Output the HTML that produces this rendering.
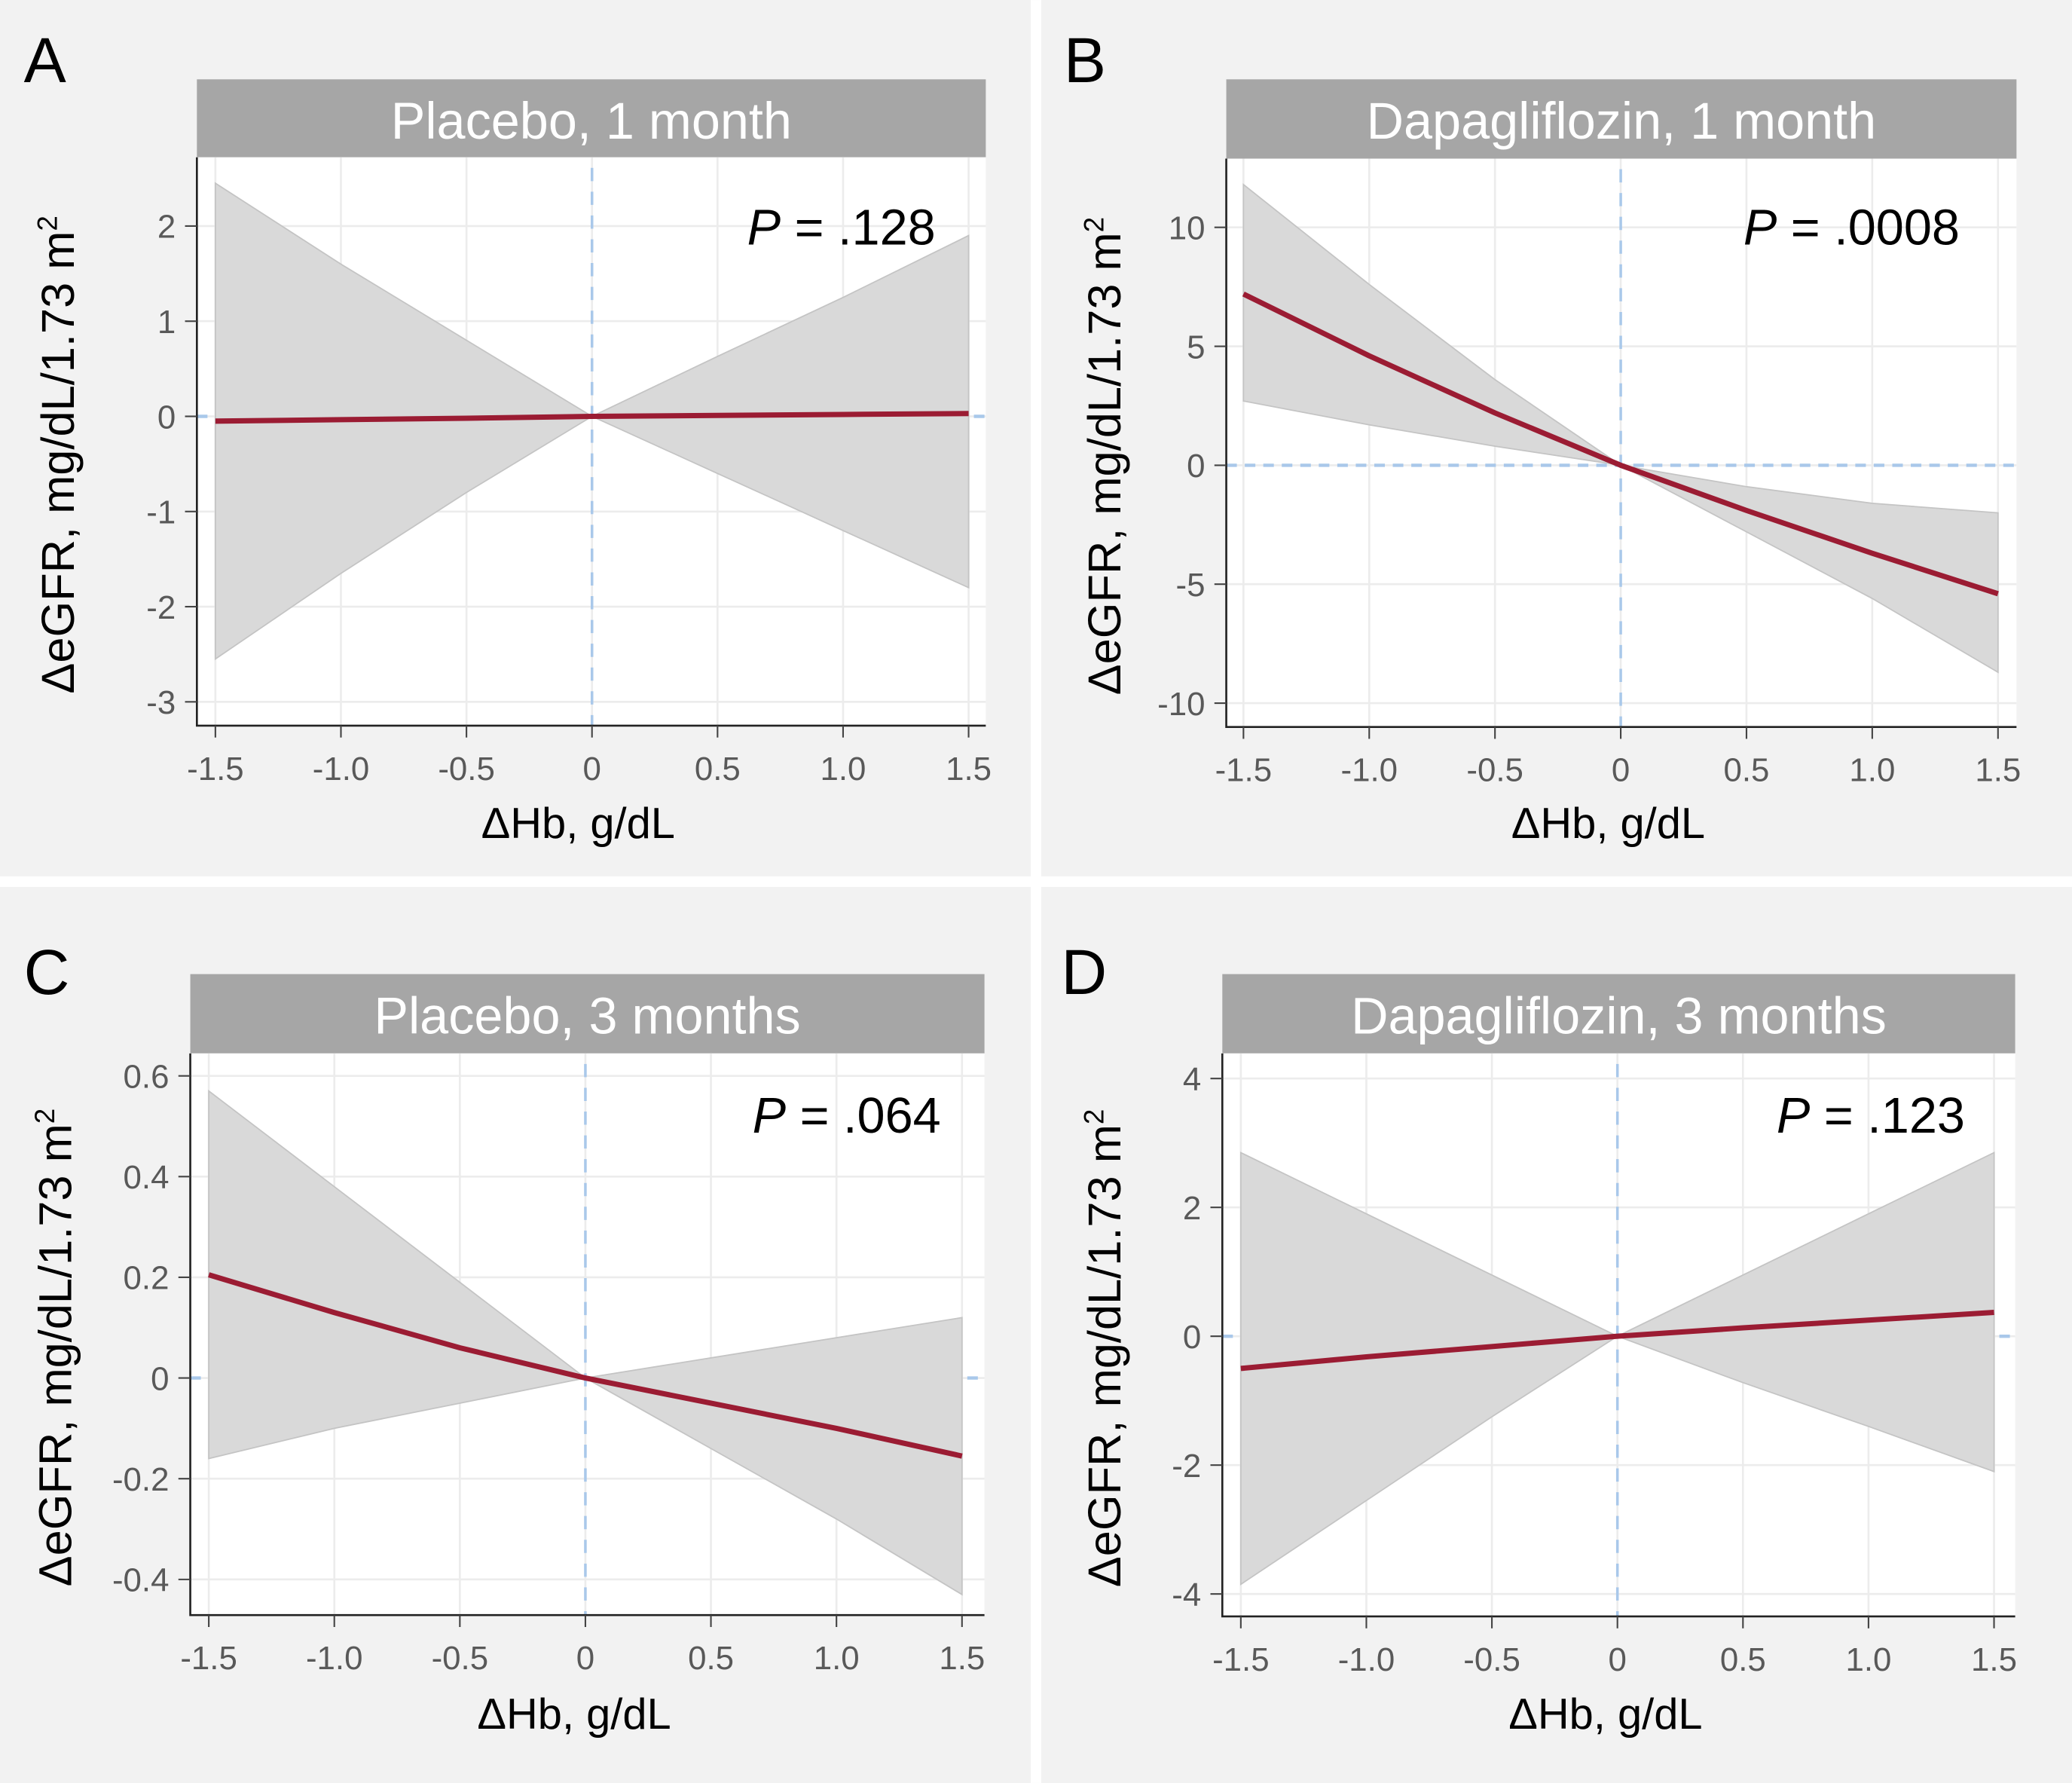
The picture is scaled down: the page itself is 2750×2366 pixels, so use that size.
<!DOCTYPE html>
<html><head><meta charset="utf-8"><style>
html,body{margin:0;padding:0;background:#f2f2f2;}
svg{display:block;}
text{font-family:"Liberation Sans",sans-serif;}
</style></head><body>
<svg id="fig" width="2750" height="2366" viewBox="0 0 1568 1349" xmlns="http://www.w3.org/2000/svg">
<rect x="0" y="0" width="1568" height="1349" fill="#f2f2f2"/>
<rect x="780" y="0" width="8" height="1349" fill="#ffffff"/>
<rect x="0" y="663" width="1568" height="8" fill="#ffffff"/>
</svg>
<script>
const xValues = [-1.5, -1.0, -0.5, 0, 0.5, 1.0, 1.5];
const xTickLabels = ["-1.5", "-1.0", "-0.5", "0", "0.5", "1.0", "1.5"];
const panelLetters = ["A", "B", "C", "D"];
const panelTitles = ["Placebo, 1 month", "Dapagliflozin, 1 month", "Placebo, 3 months", "Dapagliflozin, 3 months"];
const pValues = [".128", ".0008", ".064", ".123"];
const yTicksA = [2, 1, 0, -1, -2, -3];
const yTicksB = [10, 5, 0, -5, -10];
const yTicksC = [0.6, 0.4, 0.2, 0, -0.2, -0.4];
const yTicksD = [4, 2, 0, -2, -4];
const yTickLabelsA = ["2", "1", "0", "-1", "-2", "-3"];
const yTickLabelsB = ["10", "5", "0", "-5", "-10"];
const yTickLabelsC = ["0.6", "0.4", "0.2", "0", "-0.2", "-0.4"];
const yTickLabelsD = ["4", "2", "0", "-2", "-4"];
const fitA = [-0.05, -0.035, -0.02, 0, 0.01, 0.02, 0.03];
const upperA = [2.45, 1.6, 0.8, 0, 0.63, 1.25, 1.9];
const lowerA = [-2.55, -1.65, -0.8, 0, -0.6, -1.2, -1.8];
const fitB = [7.2, 4.6, 2.2, 0, -1.9, -3.7, -5.4];
const upperB = [11.8, 7.6, 3.6, 0, -0.9, -1.6, -2.0];
const lowerB = [2.7, 1.7, 0.8, 0, -2.8, -5.6, -8.7];
const fitC = [0.205, 0.13, 0.06, 0, -0.05, -0.1, -0.155];
const upperC = [0.57, 0.38, 0.19, 0, 0.04, 0.08, 0.12];
const lowerC = [-0.16, -0.1, -0.05, 0, -0.14, -0.28, -0.43];
const fitD = [-0.5, -0.32, -0.16, 0, 0.13, 0.25, 0.37];
const upperD = [2.85, 1.9, 0.95, 0, 0.95, 1.9, 2.85];
const lowerD = [-3.85, -2.55, -1.25, 0, -0.72, -1.4, -2.1];

const NS = "http://www.w3.org/2000/svg";
const svg = document.getElementById("fig");
function mk(tag, attrs, parent, txt) {
  const e = document.createElementNS(NS, tag);
  for (const k in attrs) e.setAttribute(k, attrs[k]);
  if (txt !== undefined) e.textContent = txt;
  (parent || svg).appendChild(e);
  return e;
}
const layouts = [
  {L:149,R:746,hT:60,T:119,B:549,x0:163,x1:733,yt0:171,yt1:531,letX:18,letY:62,pX:708,pY:185,ytX:56,xtY:634},
  {L:928,R:1526,hT:60,T:120,B:550,x0:941,x1:1512,yt0:172,yt1:532,letX:805,letY:62,pX:1483,pY:185,ytX:848,xtY:634},
  {L:144,R:745,hT:737,T:797,B:1222,x0:158,x1:728,yt0:814,yt1:1195,letX:18,letY:752,pX:712,pY:857,ytX:54,xtY:1308},
  {L:925,R:1525,hT:737,T:797,B:1223,x0:939,x1:1509,yt0:816,yt1:1206,letX:803,letY:752,pX:1487,pY:857,ytX:848,xtY:1308}
];
const yTicksAll = [yTicksA, yTicksB, yTicksC, yTicksD];
const yLabAll = [yTickLabelsA, yTickLabelsB, yTickLabelsC, yTickLabelsD];
const fits = [fitA, fitB, fitC, fitD];
const uppers = [upperA, upperB, upperC, upperD];
const lowers = [lowerA, lowerB, lowerC, lowerD];

layouts.forEach((g, i) => {
  const grp = mk("g", {});
  
  
  const yt = yTicksAll[i];
  const xS = v => g.x0 + (v - xValues[0]) * (g.x1 - g.x0) / (xValues[xValues.length - 1] - xValues[0]);
  const yS = v => g.yt0 + (v - yt[0]) * (g.yt1 - g.yt0) / (yt[yt.length - 1] - yt[0]);

  const letter = mk("text", {x:g.letX, y:g.letY, "font-size":48, fill:"#000"}, grp, panelLetters[i]);
  
  

  const hdr = mk("rect", {x:g.L, y:g.hT, width:g.R - g.L, height:g.T - g.hT, fill:"#a6a6a6"}, grp);
  
  
  const ht = mk("text", {x:(g.L + g.R) / 2, y:g.hT + 45, "font-size":39, fill:"#fff", "text-anchor":"middle"}, grp, panelTitles[i]);
  
  

  const plot = mk("rect", {x:g.L, y:g.T, width:g.R - g.L, height:g.B - g.T, fill:"#fff"}, grp);
  
  

  xValues.forEach(v => {
    const l = mk("line", {x1:xS(v), x2:xS(v), y1:g.T, y2:g.B, stroke:"#ececec", "stroke-width":1.5}, grp);
    
    
  });
  yt.forEach(v => {
    const l = mk("line", {x1:g.L, x2:g.R, y1:yS(v), y2:yS(v), stroke:"#ececec", "stroke-width":1.5}, grp);
    
    
  });

  const hz = mk("line", {x1:g.L, x2:g.R, y1:yS(0), y2:yS(0), stroke:"#a9c8ea", "stroke-width":2.5, "stroke-dasharray":"8 6"}, grp);
  
  

  let d = "";
  xValues.forEach((v, k) => { d += (k ? "L" : "M") + xS(v) + "," + yS(uppers[i][k]); });
  for (let k = xValues.length - 1; k >= 0; k--) d += "L" + xS(xValues[k]) + "," + yS(lowers[i][k]);
  const band = mk("path", {d:d + "Z", fill:"#d9d9d9", stroke:"#c4c4c4", "stroke-width":1}, grp);
  
  

  const vz = mk("line", {x1:xS(0), x2:xS(0), y1:g.T + 8, y2:g.B, stroke:"#a9c8ea", "stroke-width":2, "stroke-dasharray":"10 8"}, grp);
  
  

  let fd = "";
  xValues.forEach((v, k) => { fd += (k ? "L" : "M") + xS(v) + "," + yS(fits[i][k]); });
  const fit = mk("path", {d:fd, fill:"none", stroke:"#9b1c33", "stroke-width":4, "stroke-linejoin":"round"}, grp);
  
  

  const ax = mk("path", {d:"M" + g.L + "," + g.T + "L" + g.L + "," + g.B + "L" + g.R + "," + g.B, fill:"none", stroke:"#222", "stroke-width":1.5}, grp);
  
  

  xValues.forEach((v, k) => {
    const t = mk("line", {x1:xS(v), x2:xS(v), y1:g.B, y2:g.B + 9, stroke:"#444", "stroke-width":1.2}, grp);
    
    
    const tl = mk("text", {x:xS(v), y:g.B + 41, "font-size":25, fill:"#595959", "text-anchor":"middle"}, grp, xTickLabels[k]);
    
    
  });
  yt.forEach((v, k) => {
    const t = mk("line", {x1:g.L - 9, x2:g.L, y1:yS(v), y2:yS(v), stroke:"#444", "stroke-width":1.2}, grp);
    
    
    const tl = mk("text", {x:g.L - 16, y:yS(v) + 9, "font-size":25, fill:"#595959", "text-anchor":"end"}, grp, yLabAll[i][k]);
    
    
  });

  const xt = mk("text", {x:(g.L + g.R) / 2 - 10, y:g.xtY, "font-size":33, fill:"#000", "text-anchor":"middle"}, grp, "ΔHb, g/dL");
  
  

  const cy = (g.T + g.B) / 2 + 10;
  const ytt = mk("text", {x:g.ytX, y:cy, "font-size":35, fill:"#000", "text-anchor":"middle", transform:"rotate(-90 " + g.ytX + " " + cy + ")"}, grp);
  
  
  mk("tspan", {}, ytt, "ΔeGFR, mg/dL/1.73 m");
  mk("tspan", {dy:-13, "font-size":21}, ytt, "2");

  const pt = mk("text", {x:g.pX, y:g.pY, "font-size":38, fill:"#000", "text-anchor":"end"}, grp);
  
  
  mk("tspan", {"font-style":"italic"}, pt, "P");
  mk("tspan", {}, pt, " = " + pValues[i]);
});
</script>
</body></html>
